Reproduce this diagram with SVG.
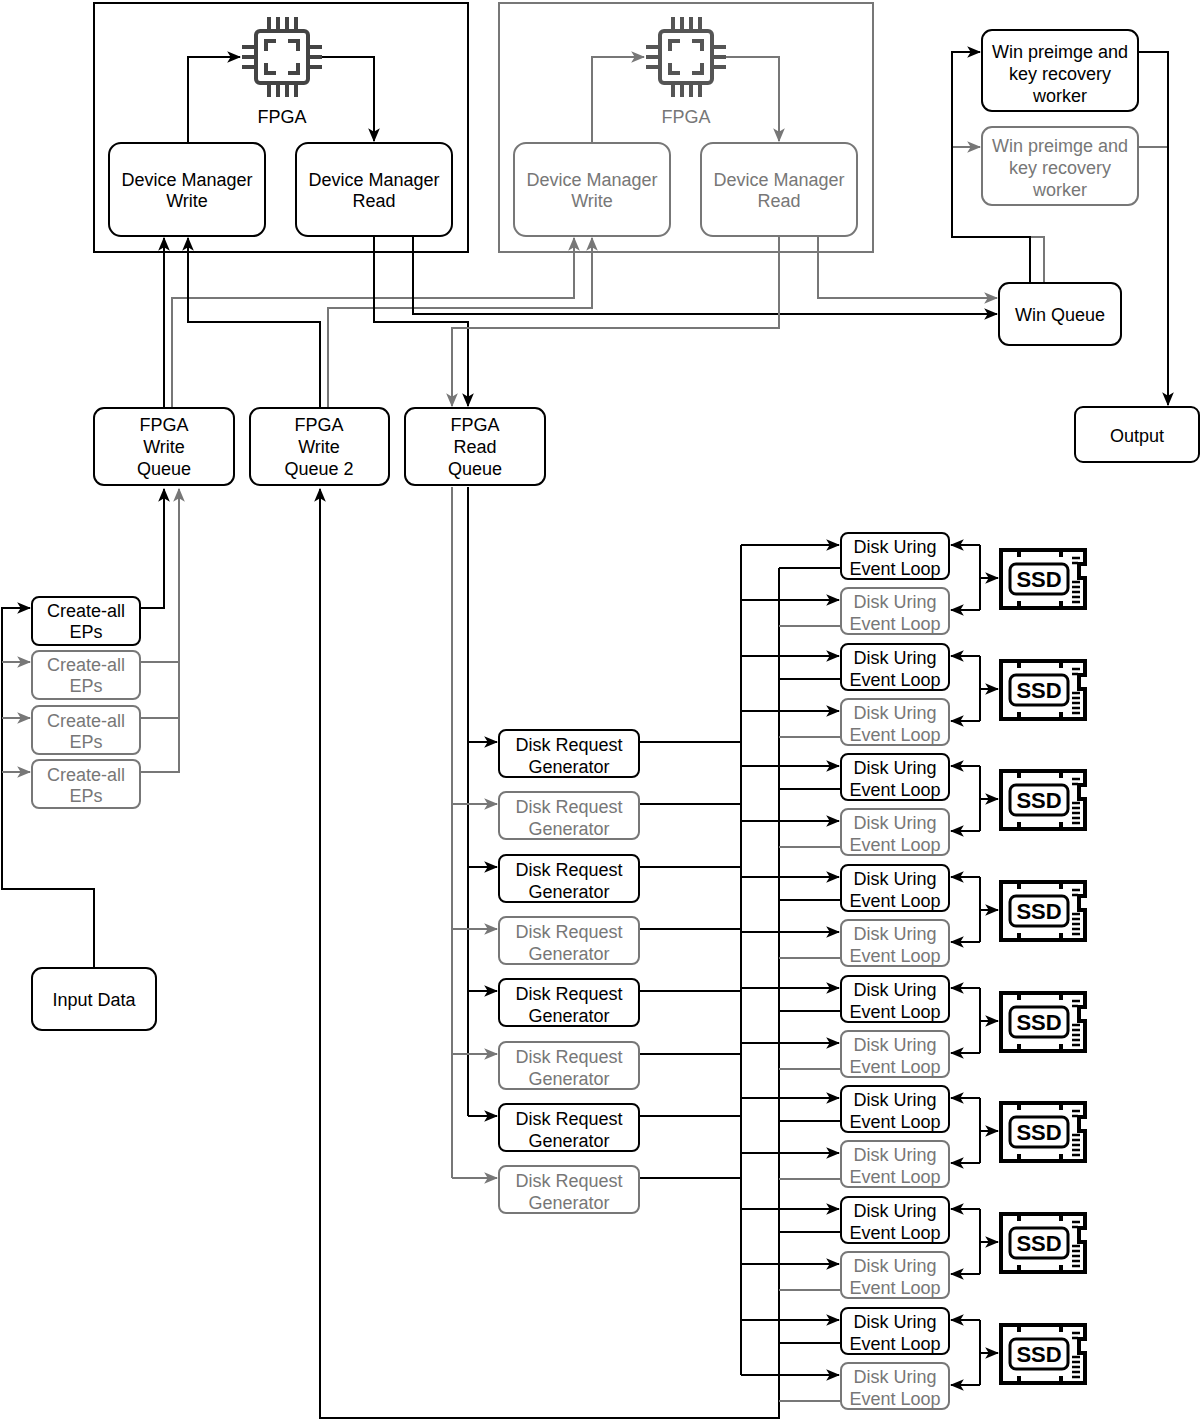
<svg xmlns="http://www.w3.org/2000/svg" xmlns:xlink="http://www.w3.org/1999/xlink" width="1200" height="1420" viewBox="0 0 1200 1420">
<style>
text{font-family:"Liberation Sans",Arial,sans-serif;font-size:18px;text-anchor:middle}
.b{fill:#fff;stroke:#000;stroke-width:2}
.g{fill:#fff;stroke:#777;stroke-width:2}
.tg{fill:#777}
.cb{fill:none;stroke:#000;stroke-width:2}
.cg{fill:none;stroke:#777;stroke-width:2}
.ab{marker-end:url(#mb)}
.ag{marker-end:url(#mg)}
</style>
<defs>
<marker id="mb" markerUnits="userSpaceOnUse" markerWidth="14" markerHeight="14" viewBox="0 0 12 12" refX="11" refY="6" orient="auto"><path d="M0,1 L12,6 L0,11 L3,6 Z" fill="#000"/></marker>
<marker id="mg" markerUnits="userSpaceOnUse" markerWidth="14" markerHeight="14" viewBox="0 0 12 12" refX="11" refY="6" orient="auto"><path d="M0,1 L12,6 L0,11 L3,6 Z" fill="#777"/></marker>
<symbol id="chip" viewBox="0 0 80 80" overflow="visible">
<g fill="none" stroke="currentColor" stroke-width="4">
<rect x="14" y="14" width="52" height="52" rx="4"/>
<path d="M24,34 V24 H34 M46,24 H56 V34 M56,46 V56 H46 M34,56 H24 V46"/>
<path d="M27,0 V14 M36,0 V14 M45,0 V14 M54,0 V14 M27,66 V80 M36,66 V80 M45,66 V80 M54,66 V80 M0,30 H14 M0,40 H14 M0,50 H14 M66,30 H80 M66,40 H80 M66,50 H80"/>
</g>
</symbol>
<symbol id="ssd" viewBox="0 0 88 62" overflow="visible">
<path d="M2,2 H86 V16 H80 V30 H86 V60 H2 Z" fill="#fff" stroke="#000" stroke-width="4"/>
<path d="M20,2 V9 M62,2 V9 M20,60 V53 M62,60 V53" stroke="#000" stroke-width="4"/>
<rect x="11" y="16" width="58" height="30" rx="6" fill="none" stroke="#000" stroke-width="3"/>
<text x="40" y="39" style="font-size:22px;font-weight:bold">SSD</text>
<path d="M73,10 H81 M73,15 H79 M73,34 H81 M73,39 H81 M73,44 H81 M73,49 H81 M73,54 H81" stroke="#000" stroke-width="2.5"/>
</symbol>
<g id="ur"><path class="cb" d="M980,12 V77"/><path class="cb ab" d="M980,12 H951"/><path class="cb ab" d="M980,77 H951"/><path class="cb ab" d="M980,45 H998"/></g>
</defs>

<!-- containers -->
<g id="fpga1">
<rect x="94" y="3" width="374" height="249" fill="none" stroke="#000" stroke-width="2"/>
<use href="#chip" x="242" y="17" width="80" height="80" style="color:#444"/>
<text x="282" y="123">FPGA</text>
</g>
<g id="fpga2">
<rect x="499" y="3" width="374" height="249" fill="none" stroke="#777" stroke-width="2"/>
<use href="#chip" x="646" y="17" width="80" height="80" style="color:#555"/>
<text x="686" y="123" class="tg">FPGA</text>
</g>

<g id="connectors">
<path class="cb ab" d="M188,143 V57 H240"/>
<path class="cb ab" d="M322,57 H374 V141"/>
<path class="cg ag" d="M592,143 V57 H644"/>
<path class="cg ag" d="M726,57 H779 V141"/>
<path class="cb ab" d="M164,408 V238"/>
<path class="cg ag" d="M172,408 V298 H574 V238"/>
<path class="cb ab" d="M320,408 V322 H188 V238"/>
<path class="cg ag" d="M328,408 V308 H592 V238"/>
<path class="cb ab" d="M374,236 V322 H468 V406"/>
<path class="cb ab" d="M413,236 V314 H997"/>
<path class="cg ag" d="M779,236 V328 H452 V406"/>
<path class="cg ag" d="M818,236 V298 H997"/>
<path class="cg ag" d="M1044,283 V237 H952 V147 H980"/>
<path class="cb ab" d="M1030,283 V237 H952 V52 H980"/>
<path class="cg" d="M1138,147 H1168"/>
<path class="cb ab" d="M1138,52 H1168 V405"/>
<path class="cb ab" d="M140,608 H164 V489"/>
<path class="cg ag" d="M140,662 H179 M140,718 H179 M140,772 H179 V489"/>
<path class="cb ab" d="M94,968 V889 H2 V608 H30"/>
<path class="cg ag" d="M2,662 H30"/><path class="cg ag" d="M2,718 H30"/><path class="cg ag" d="M2,772 H30"/>
<path class="cb ab" d="M779,568 V1418 H320 V489"/>
<path class="cb" d="M468,487 V1116"/>
<path class="cg" d="M452,487 V1178"/>
<path class="cb ab" d="M468,742 H497"/><path class="cb ab" d="M468,867 H497"/><path class="cb ab" d="M468,991 H497"/><path class="cb ab" d="M468,1116 H497"/>
<path class="cg ag" d="M452,804 H497"/><path class="cg ag" d="M452,929 H497"/><path class="cg ag" d="M452,1054 H497"/><path class="cg ag" d="M452,1178 H497"/>
<path class="cb" d="M639,742 H741 M639,804 H741 M639,867 H741 M639,929 H741 M639,991 H741 M639,1054 H741 M639,1116 H741 M639,1178 H741 M741,545 V1375"/>
<path class="cb ab" d="M741,545 H839"/><path class="cb ab" d="M741,600 H839"/>
<path class="cb ab" d="M741,656 H839"/><path class="cb ab" d="M741,711 H839"/>
<path class="cb ab" d="M741,766 H839"/><path class="cb ab" d="M741,821 H839"/>
<path class="cb ab" d="M741,877 H839"/><path class="cb ab" d="M741,932 H839"/>
<path class="cb ab" d="M741,988 H839"/><path class="cb ab" d="M741,1043 H839"/>
<path class="cb ab" d="M741,1098 H839"/><path class="cb ab" d="M741,1153 H839"/>
<path class="cb ab" d="M741,1209 H839"/><path class="cb ab" d="M741,1264 H839"/>
<path class="cb ab" d="M741,1320 H839"/><path class="cb ab" d="M741,1375 H839"/>
<path class="cb" d="M779,568 H841 M779,679 H841 M779,789 H841 M779,900 H841 M779,1011 H841 M779,1121 H841 M779,1232 H841 M779,1343 H841"/>
<path class="cg" d="M779,626 H841 M779,737 H841 M779,847 H841 M779,958 H841 M779,1069 H841 M779,1179 H841 M779,1290 H841 M779,1401 H841"/>
<use href="#ur" y="533"/><use href="#ur" y="644"/><use href="#ur" y="754"/><use href="#ur" y="865"/>
<use href="#ur" y="976"/><use href="#ur" y="1086"/><use href="#ur" y="1197"/><use href="#ur" y="1308"/>
</g>

<g id="dmw"><rect class="b" x="109" y="143" width="156" height="93" rx="12"/><text x="187" y="186">Device Manager</text><text x="187" y="207">Write</text></g>
<g id="dmr"><rect class="b" x="296" y="143" width="156" height="93" rx="12"/><text x="374" y="186">Device Manager</text><text x="374" y="207">Read</text></g>
<g id="dmw2"><rect class="g" x="514" y="143" width="156" height="93" rx="12"/><text class="tg" x="592" y="186">Device Manager</text><text class="tg" x="592" y="207">Write</text></g>
<g id="dmr2"><rect class="g" x="701" y="143" width="156" height="93" rx="12"/><text class="tg" x="779" y="186">Device Manager</text><text class="tg" x="779" y="207">Read</text></g>
<g id="w1"><rect class="b" x="982" y="30" width="156" height="81" rx="10"/><text x="1060" y="58">Win preimge and</text><text x="1060" y="80">key recovery</text><text x="1060" y="102">worker</text></g>
<g id="w2"><rect class="g" x="982" y="127" width="156" height="78" rx="10"/><text class="tg" x="1060" y="152">Win preimge and</text><text class="tg" x="1060" y="174">key recovery</text><text class="tg" x="1060" y="196">worker</text></g>
<g id="winq"><rect class="b" x="999" y="283" width="122" height="62" rx="10"/><text x="1060" y="321">Win Queue</text></g>
<g id="out"><rect class="b" x="1075" y="407" width="124" height="55" rx="8"/><text x="1137" y="442">Output</text></g>
<g id="fwq"><rect class="b" x="94" y="408" width="140" height="77" rx="10"/><text x="164" y="431">FPGA</text><text x="164" y="453">Write</text><text x="164" y="475">Queue</text></g>
<g id="fwq2"><rect class="b" x="250" y="408" width="139" height="77" rx="10"/><text x="319" y="431">FPGA</text><text x="319" y="453">Write</text><text x="319" y="475">Queue 2</text></g>
<g id="frq"><rect class="b" x="405" y="408" width="140" height="77" rx="10"/><text x="475" y="431">FPGA</text><text x="475" y="453">Read</text><text x="475" y="475">Queue</text></g>
<g id="ep1"><rect class="b" x="32" y="597" width="108" height="48" rx="7"/><text x="86" y="617">Create-all</text><text x="86" y="638">EPs</text></g>
<g id="ep2"><rect class="g" x="32" y="651" width="108" height="48" rx="7"/><text class="tg" x="86" y="671">Create-all</text><text class="tg" x="86" y="692">EPs</text></g>
<g id="ep3"><rect class="g" x="32" y="706" width="108" height="48" rx="7"/><text class="tg" x="86" y="727">Create-all</text><text class="tg" x="86" y="748">EPs</text></g>
<g id="ep4"><rect class="g" x="32" y="760" width="108" height="48" rx="7"/><text class="tg" x="86" y="781">Create-all</text><text class="tg" x="86" y="802">EPs</text></g>
<g id="input"><rect class="b" x="32" y="968" width="124" height="62" rx="10"/><text x="94" y="1006">Input Data</text></g>

<g id="drg1"><rect class="b" x="499" y="730" width="140" height="47" rx="7"/><text x="569" y="751">Disk Request</text><text x="569" y="773">Generator</text></g>
<g id="drg2"><rect class="g" x="499" y="792" width="140" height="47" rx="7"/><text class="tg" x="569" y="813">Disk Request</text><text class="tg" x="569" y="835">Generator</text></g>
<g id="drg3"><rect class="b" x="499" y="855" width="140" height="47" rx="7"/><text x="569" y="876">Disk Request</text><text x="569" y="898">Generator</text></g>
<g id="drg4"><rect class="g" x="499" y="917" width="140" height="47" rx="7"/><text class="tg" x="569" y="938">Disk Request</text><text class="tg" x="569" y="960">Generator</text></g>
<g id="drg5"><rect class="b" x="499" y="979" width="140" height="47" rx="7"/><text x="569" y="1000">Disk Request</text><text x="569" y="1022">Generator</text></g>
<g id="drg6"><rect class="g" x="499" y="1042" width="140" height="47" rx="7"/><text class="tg" x="569" y="1063">Disk Request</text><text class="tg" x="569" y="1085">Generator</text></g>
<g id="drg7"><rect class="b" x="499" y="1104" width="140" height="47" rx="7"/><text x="569" y="1125">Disk Request</text><text x="569" y="1147">Generator</text></g>
<g id="drg8"><rect class="g" x="499" y="1166" width="140" height="47" rx="7"/><text class="tg" x="569" y="1187">Disk Request</text><text class="tg" x="569" y="1209">Generator</text></g>

<g id="u1"><rect class="b" x="841" y="533" width="108" height="46" rx="7"/><text x="895" y="553">Disk Uring</text><text x="895" y="575">Event Loop</text></g>
<g id="u2"><rect class="g" x="841" y="588" width="108" height="46" rx="7"/><text class="tg" x="895" y="608">Disk Uring</text><text class="tg" x="895" y="630">Event Loop</text></g>
<g id="u3"><rect class="b" x="841" y="644" width="108" height="46" rx="7"/><text x="895" y="664">Disk Uring</text><text x="895" y="686">Event Loop</text></g>
<g id="u4"><rect class="g" x="841" y="699" width="108" height="46" rx="7"/><text class="tg" x="895" y="719">Disk Uring</text><text class="tg" x="895" y="741">Event Loop</text></g>
<g id="u5"><rect class="b" x="841" y="754" width="108" height="46" rx="7"/><text x="895" y="774">Disk Uring</text><text x="895" y="796">Event Loop</text></g>
<g id="u6"><rect class="g" x="841" y="809" width="108" height="46" rx="7"/><text class="tg" x="895" y="829">Disk Uring</text><text class="tg" x="895" y="851">Event Loop</text></g>
<g id="u7"><rect class="b" x="841" y="865" width="108" height="46" rx="7"/><text x="895" y="885">Disk Uring</text><text x="895" y="907">Event Loop</text></g>
<g id="u8"><rect class="g" x="841" y="920" width="108" height="46" rx="7"/><text class="tg" x="895" y="940">Disk Uring</text><text class="tg" x="895" y="962">Event Loop</text></g>
<g id="u9"><rect class="b" x="841" y="976" width="108" height="46" rx="7"/><text x="895" y="996">Disk Uring</text><text x="895" y="1018">Event Loop</text></g>
<g id="u10"><rect class="g" x="841" y="1031" width="108" height="46" rx="7"/><text class="tg" x="895" y="1051">Disk Uring</text><text class="tg" x="895" y="1073">Event Loop</text></g>
<g id="u11"><rect class="b" x="841" y="1086" width="108" height="46" rx="7"/><text x="895" y="1106">Disk Uring</text><text x="895" y="1128">Event Loop</text></g>
<g id="u12"><rect class="g" x="841" y="1141" width="108" height="46" rx="7"/><text class="tg" x="895" y="1161">Disk Uring</text><text class="tg" x="895" y="1183">Event Loop</text></g>
<g id="u13"><rect class="b" x="841" y="1197" width="108" height="46" rx="7"/><text x="895" y="1217">Disk Uring</text><text x="895" y="1239">Event Loop</text></g>
<g id="u14"><rect class="g" x="841" y="1252" width="108" height="46" rx="7"/><text class="tg" x="895" y="1272">Disk Uring</text><text class="tg" x="895" y="1294">Event Loop</text></g>
<g id="u15"><rect class="b" x="841" y="1308" width="108" height="46" rx="7"/><text x="895" y="1328">Disk Uring</text><text x="895" y="1350">Event Loop</text></g>
<g id="u16"><rect class="g" x="841" y="1363" width="108" height="46" rx="7"/><text class="tg" x="895" y="1383">Disk Uring</text><text class="tg" x="895" y="1405">Event Loop</text></g>

<g id="ssd1"><use href="#ssd" x="999" y="548" width="88" height="62"/></g>
<g id="ssd2"><use href="#ssd" x="999" y="659" width="88" height="62"/></g>
<g id="ssd3"><use href="#ssd" x="999" y="769" width="88" height="62"/></g>
<g id="ssd4"><use href="#ssd" x="999" y="880" width="88" height="62"/></g>
<g id="ssd5"><use href="#ssd" x="999" y="991" width="88" height="62"/></g>
<g id="ssd6"><use href="#ssd" x="999" y="1101" width="88" height="62"/></g>
<g id="ssd7"><use href="#ssd" x="999" y="1212" width="88" height="62"/></g>
<g id="ssd8"><use href="#ssd" x="999" y="1323" width="88" height="62"/></g>
</svg>
